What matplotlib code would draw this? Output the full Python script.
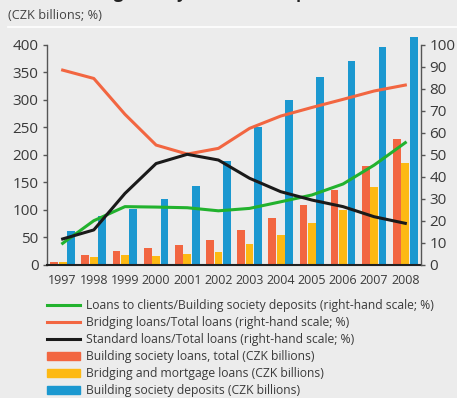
import numpy as np
import matplotlib.pyplot as plt

plt.rcParams['font.family'] = ['Open Sans', 'DejaVu Sans']

years = ['1997', '1998', '1999', '2000', '2001', '2002',
         '2003', '2004', '2005', '2006', '2007', '2008']

# CZK billions (left scale)
loans_total = [5, 18, 25, 30, 36, 45, 63, 85, 108, 136, 179, 228]
bridging_mortgage = [5, 14, 18, 16, 20, 23, 38, 54, 76, 100, 141, 185]
deposits = [61, 88, 102, 119, 143, 188, 250, 299, 341, 370, 396, 414]

# % (right scale)
loans_to_deposits = [9.7, 20.0, 26.4, 26.2, 25.9, 24.5, 25.6, 28.6, 31.7, 36.7, 45.3, 55.5]
bridging_share = [88.5, 84.7, 68.4, 54.4, 50.3, 52.9, 62.0, 67.6, 71.5, 75.2, 79.0, 81.7]
standard_share = [11.7, 15.8, 32.4, 46.0, 50.2, 47.6, 39.3, 33.2, 29.4, 26.4, 21.8, 18.8]

bg = '#ececec'
c_red = '#f26641'
c_yel = '#fdb913'
c_blue = '#1b98d0'
c_green = '#22b22e'
c_black = '#1a1a1a'
txt = '#3a3a3a'

fig = plt.figure(figsize=(4.57, 3.98), dpi=100, facecolor=bg)
ax = fig.add_axes([0.103, 0.335, 0.818, 0.58], facecolor=bg)
ax2 = ax.twinx()

x = np.arange(len(years))
w = 0.25
ax.bar(x - 0.27, loans_total, w, color=c_red, zorder=2)
ax.bar(x, bridging_mortgage, w, color=c_yel, zorder=2)
ax.bar(x + 0.27, deposits, w, color=c_blue, zorder=2)

ax2.plot(x, loans_to_deposits, color=c_green, lw=2.2)
ax2.plot(x, bridging_share, color=c_red, lw=2.2)
ax2.plot(x, standard_share, color=c_black, lw=2.2)

ax.set_xlim(-0.5, 11.5)
ax.set_ylim(0, 420)
ax2.set_ylim(0, 105)
ax.set_yticks(range(0, 401, 50))
ax2.set_yticks(range(0, 101, 10))
ax.spines['left'].set_bounds(0, 400)
ax2.spines['right'].set_bounds(0, 100)
for a in (ax, ax2):
    a.spines['top'].set_visible(False)
    for s in a.spines.values():
        s.set_color('#555555')
        s.set_linewidth(1.0)
ax2.spines['left'].set_visible(False)
ax2.spines['bottom'].set_visible(False)
ax.spines['right'].set_visible(False)
ax.spines['bottom'].set_color('#222222')
ax.spines['bottom'].set_linewidth(1.5)

ax.set_xticks(x)
ax.set_xticklabels(years)
ax.tick_params(axis='x', length=0, pad=7, labelsize=9, labelcolor=txt)
ax.tick_params(axis='y', length=3, width=1, color='#555555', pad=3, labelsize=11, labelcolor=txt)
ax2.tick_params(axis='y', length=3, width=1, color='#555555', pad=3, labelsize=11, labelcolor=txt)

# title sits above the canvas, only its descenders show; subtitle and rule below it
fig.text(0.12, 1.004, 'Building society loans and deposits', fontsize=12,
         fontweight='bold', color='#222222', va='baseline')
fig.text(0.018, 0.962, '(CZK billions; %)', fontsize=9.2, color='#444444', va='center')
fig.add_artist(plt.Line2D([0.018, 1.0], [0.932, 0.932], color='white', lw=1.2))

handles = [
    plt.Line2D([], [], color=c_green, lw=2.2),
    plt.Line2D([], [], color=c_red, lw=2.2),
    plt.Line2D([], [], color=c_black, lw=2.2),
    plt.Rectangle((0, 0), 1, 1, color=c_red),
    plt.Rectangle((0, 0), 1, 1, color=c_yel),
    plt.Rectangle((0, 0), 1, 1, color=c_blue),
]
labels = [
    'Loans to clients/Building society deposits (right-hand scale; %)',
    'Bridging loans/Total loans (right-hand scale; %)',
    'Standard loans/Total loans (right-hand scale; %)',
    'Building society loans, total (CZK billions)',
    'Bridging and mortgage loans (CZK billions)',
    'Building society deposits (CZK billions)',
]
leg = fig.legend(handles, labels, loc='upper left', bbox_to_anchor=(0.103, 0.248),
                 frameon=False, fontsize=8.7, handlelength=2.7, handleheight=0.6,
                 handletextpad=0.5, labelspacing=0.33, borderaxespad=0, borderpad=0)
for t in leg.get_texts():
    t.set_color(txt)

fig.savefig('out.png', dpi=100, facecolor=bg)
